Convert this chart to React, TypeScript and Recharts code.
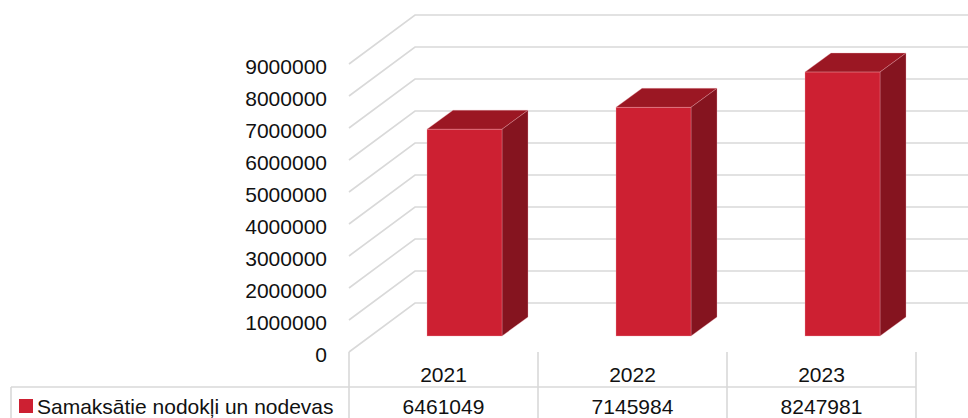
import { BarChart, Bar, XAxis, YAxis, CartesianGrid } from "recharts";

const YEARS = ["2021", "2022", "2023"];
const TAX_PAID = [6461049, 7145984, 8247981];
const Y_TICKS = [0, 1000000, 2000000, 3000000, 4000000, 5000000, 6000000, 7000000, 8000000, 9000000];
const SERIES_NAME = "Samaksātie nodokļi un nodevas";

const data = YEARS.map((year, i) => ({ year, value: TAX_PAID[i] }));

const W = 968;
const H = 418;
const PLOT_LEFT = 349;
const PLOT_BOTTOM = 352;
const BAND = 189;

// 3d look: floor depth and bar depth offsets
const FLOOR_DX = 66;
const FLOOR_DY = -49;
const BAR_OFF_DX = 21;
const BAR_OFF_DY = -16;
const BAR_DX = 26;
const BAR_DY = -19;

const FRONT = "#CD2032";
const SIDE = "#85141F";
const TOP = "#9B1723";
const GRID = "#D9D9D9";
const FONT = "'Liberation Sans', Arial, sans-serif";
const TEXT = "#111";

function Bar3D(props: any) {
  const { x, y, width, height } = props;
  const fx = x + BAR_OFF_DX;
  const fy = y + BAR_OFF_DY;
  const edge = "rgba(240,170,178,0.55)";
  return (
    <g>
      <polygon
        points={`${fx},${fy} ${fx + BAR_DX},${fy + BAR_DY} ${fx + width + BAR_DX},${fy + BAR_DY} ${fx + width},${fy}`}
        fill={TOP}
        stroke={edge}
        strokeWidth={0.6}
      />
      <polygon
        points={`${fx + width},${fy} ${fx + width + BAR_DX},${fy + BAR_DY} ${fx + width + BAR_DX},${fy + height + BAR_DY} ${fx + width},${fy + height}`}
        fill={SIDE}
        stroke={edge}
        strokeWidth={0.6}
      />
      <rect x={fx} y={fy} width={width} height={height} fill={FRONT} stroke={edge} strokeWidth={0.6} />
    </g>
  );
}

function gridLine(props: any) {
  const { x1, y1 } = props;
  return (
    <path
      key={`g-${y1}`}
      d={`M${x1},${y1} L${x1 + FLOOR_DX},${y1 + FLOOR_DY} L${W},${y1 + FLOOR_DY}`}
      stroke={GRID}
      strokeWidth={1.6}
      fill="none"
    />
  );
}

function YTick(props: any) {
  const { y, payload } = props;
  return (
    <text x={PLOT_LEFT - 22} y={y + 10} textAnchor="end" fontSize={21} fontFamily={FONT} fill={TEXT}>
      {payload.value}
    </text>
  );
}

function XTick(props: any) {
  const { x, payload, index } = props;
  const left = x - BAND / 2;
  const right = x + BAND / 2;
  const rowY = 387;
  return (
    <g>
      <text x={x} y={382} textAnchor="middle" fontSize={21} fontFamily={FONT} fill={TEXT}>
        {payload.value}
      </text>
      <text x={x} y={414} textAnchor="middle" fontSize={21} fontFamily={FONT} fill={TEXT}>
        {TAX_PAID[index]}
      </text>
      <line x1={left} y1={rowY} x2={right} y2={rowY} stroke={GRID} strokeWidth={1.6} />
      <line x1={right} y1={PLOT_BOTTOM} x2={right} y2={H} stroke={GRID} strokeWidth={1.6} />
      {index === 0 && (
        <g>
          <line x1={left} y1={PLOT_BOTTOM} x2={left} y2={H} stroke={GRID} strokeWidth={1.6} />
          <line x1={11} y1={rowY} x2={left} y2={rowY} stroke={GRID} strokeWidth={1.6} />
          <line x1={11} y1={rowY} x2={11} y2={H} stroke={GRID} strokeWidth={1.6} />
          <rect x={19} y={399} width={14} height={14} fill={FRONT} />
          <text x={37} y={414} fontSize={21} fontFamily={FONT} fill={TEXT}>
            {SERIES_NAME}
          </text>
        </g>
      )}
    </g>
  );
}

export default function App() {
  return (
    <div style={{ position: "absolute", left: 0, top: 0, background: "#fff" }}>
      <BarChart width={W} height={H} data={data} margin={{ top: 64, right: W - PLOT_LEFT - BAND * 3, bottom: 0, left: 0 }}>
        <CartesianGrid vertical={false} horizontal={gridLine} />
        <XAxis dataKey="year" axisLine={false} tickLine={false} height={H - PLOT_BOTTOM} tick={<XTick />} interval={0} />
        <YAxis
          domain={[0, 9000000]}
          ticks={Y_TICKS}
          axisLine={false}
          tickLine={false}
          width={PLOT_LEFT}
          tick={<YTick />}
          interval={0}
        />
        <Bar dataKey="value" barSize={75} fill={FRONT} shape={<Bar3D />} isAnimationActive={false} />
      </BarChart>
    </div>
  );
}
